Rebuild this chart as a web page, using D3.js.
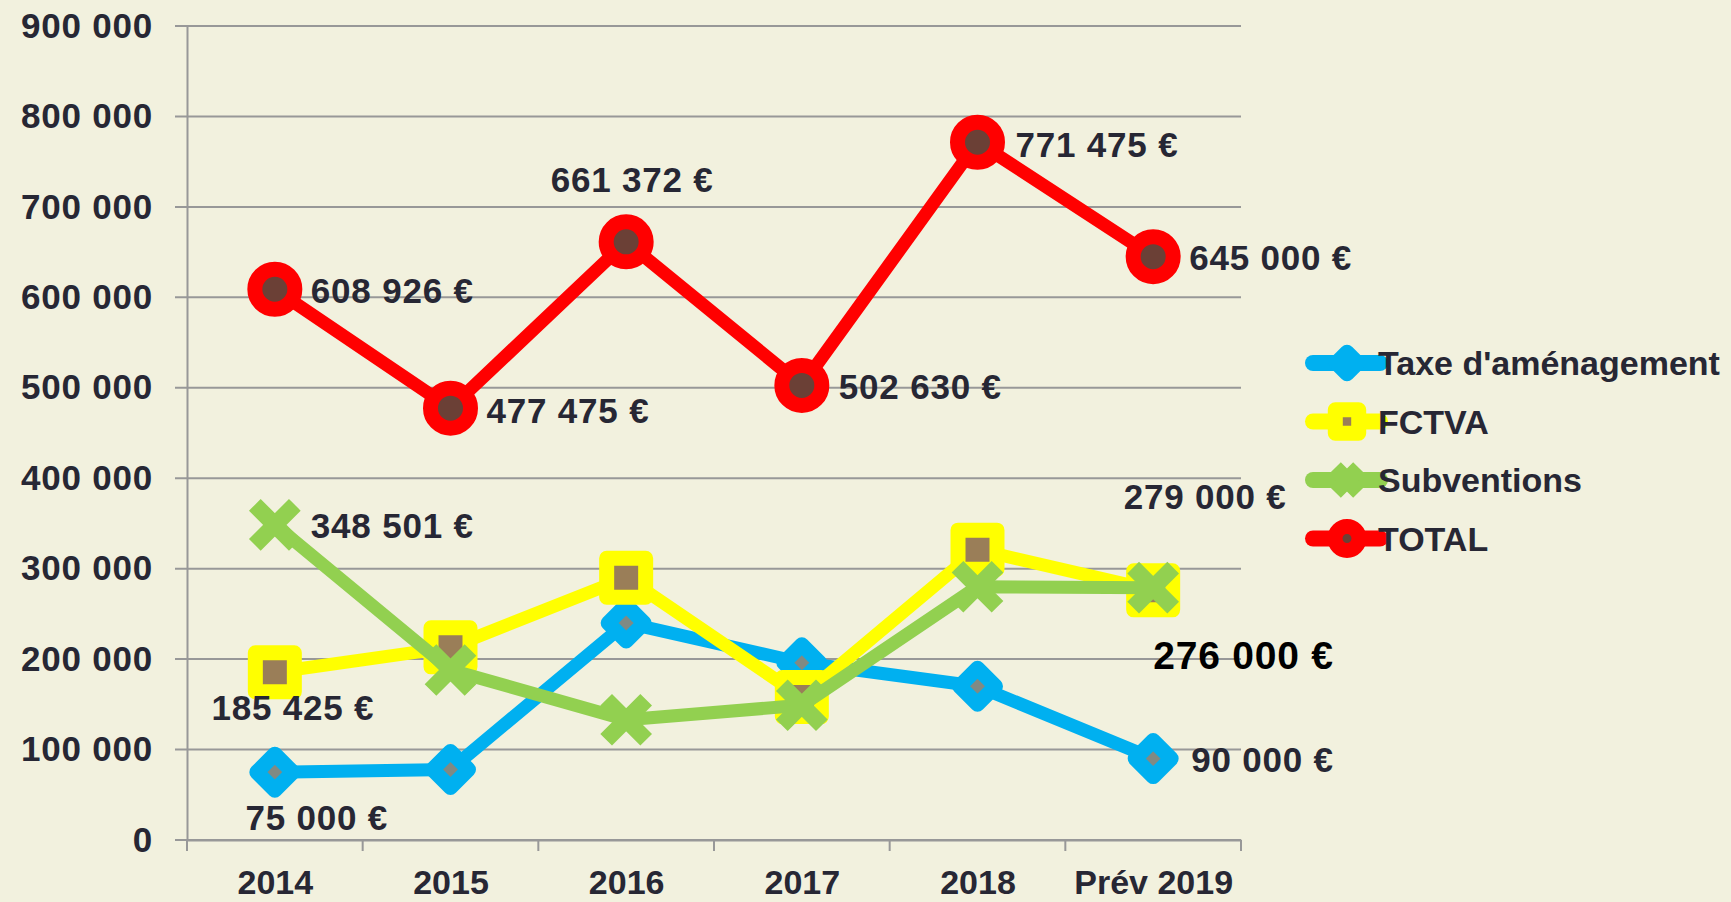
<!DOCTYPE html>
<html>
<head>
<meta charset="utf-8">
<script src="https://cdn.jsdelivr.net/npm/d3@7"></script>
<style>
  html, body { margin: 0; padding: 0; background: #F2F1DE; overflow: hidden; }
  svg { display: block; }
  text { font-family: "Liberation Sans", Arial, sans-serif; font-weight: bold; fill: #272734; }
</style>
</head>
<body>
<svg id="chart" width="1731" height="902"></svg>
<script>
// ---- Data ----
const categories = ["2014", "2015", "2016", "2017", "2018", "Prév 2019"];
const taxeAmenagement = [75000, 78000, 240000, 196000, 170000, 90000];
const fctva = [185425, 213000, 290000, 158000, 321000, 276000];
const subventions = [348501, 188000, 133000, 149000, 280000, 279000];
const total = [608926, 477475, 661372, 502630, 771475, 645000];
const yTicks = [0, 100000, 200000, 300000, 400000, 500000, 600000, 700000, 800000, 900000];
const seriesNames = ["Taxe d'aménagement", "FCTVA", "Subventions", "TOTAL"];

// ---- Layout / style ----
const W = 1731, H = 902;
const plot = { left: 187, right: 1241, top: 26, bottom: 840 };
const svg = d3.select("#chart");
svg.append("rect").attr("width", W).attr("height", H).attr("fill", "#F2F1DE");

const x = d3.scalePoint().domain(categories).range([plot.left, plot.right]).padding(0.5);
const y = d3.scaleLinear().domain([0, 900000]).range([plot.bottom, plot.top]);
const step = x.step();

const fmtNum = v => d3.format(",")(v).replace(/,/g, " ");
const gridColor = "#989898";

// gridlines
svg.append("g").selectAll("line").data(yTicks).join("line")
  .attr("x1", plot.left - 12).attr("x2", plot.right)
  .attr("y1", d => y(d)).attr("y2", d => y(d))
  .attr("stroke", gridColor).attr("stroke-width", 2);

// y axis
const yAxis = d3.axisLeft(y).tickValues(yTicks).tickSize(0).tickPadding(34)
  .tickFormat(d => fmtNum(d));
const gy = svg.append("g").attr("transform", `translate(${plot.left},0)`).call(yAxis);
gy.select(".domain").attr("stroke", gridColor).attr("stroke-width", 2);
gy.selectAll("text").attr("font-size", 35).attr("letter-spacing", 0.8)
  .attr("fill", "#272734").attr("font-family", "Liberation Sans, Arial, sans-serif")
  .attr("font-weight", "bold");

// x axis
const xAxis = d3.axisBottom(x).tickSize(0).tickPadding(30);
const gx = svg.append("g").attr("transform", `translate(0,${plot.bottom})`).call(xAxis);
gx.select(".domain").attr("stroke", gridColor).attr("stroke-width", 2);
gx.selectAll("text").attr("font-size", 34).attr("fill", "#272734")
  .attr("font-family", "Liberation Sans, Arial, sans-serif").attr("font-weight", "bold")
  .attr("dy", "0.71em");
// category boundary ticks
const bounds = d3.range(categories.length + 1).map(i => plot.left + i * step);
svg.append("g").selectAll("line").data(bounds).join("line")
  .attr("x1", d => d).attr("x2", d => d)
  .attr("y1", plot.bottom).attr("y2", plot.bottom + 11)
  .attr("stroke", gridColor).attr("stroke-width", 2);

// ---- Series ----
const series = [
  { name: seriesNames[0], values: taxeAmenagement, color: "#00B0F0", inner: "#808A84", marker: "diamond" },
  { name: seriesNames[1], values: fctva, color: "#FFFF00", inner: "#9A7E58", marker: "square" },
  { name: seriesNames[2], values: subventions, color: "#92D050", inner: "#92D050", marker: "x" },
  { name: seriesNames[3], values: total, color: "#FF0000", inner: "#6B4036", marker: "circle" }
];

function drawMarker(g, type, color, inner, s) {
  if (type === "diamond") {
    const h = 18 * s.size;
    g.append("path").attr("d", `M0,${-h}L${h},0L0,${h}L${-h},0Z`)
      .attr("fill", inner).attr("stroke", color).attr("stroke-width", s.stroke)
      .attr("stroke-linejoin", "round");
  } else if (type === "square") {
    const a = 19.5 * s.size;
    g.append("rect").attr("x", -a).attr("y", -a).attr("width", 2 * a).attr("height", 2 * a)
      .attr("fill", inner).attr("stroke", color).attr("stroke-width", s.stroke)
      .attr("stroke-linejoin", "round");
  } else if (type === "circle") {
    g.append("circle").attr("r", 20 * s.size)
      .attr("fill", inner).attr("stroke", color).attr("stroke-width", s.stroke);
  } else if (type === "x") {
    const a = 20 * s.size;
    g.append("path").attr("d", `M${-a},${-a}L${a},${a}M${-a},${a}L${a},${-a}`)
      .attr("stroke", color).attr("stroke-width", s.stroke * 1.1).attr("stroke-linecap", "butt");
  }
}

const line = d3.line().x((d, i) => x(categories[i])).y(d => y(d));

series.forEach(s => {
  const g = svg.append("g");
  g.append("path").datum(s.values).attr("d", line)
    .attr("fill", "none").attr("stroke", s.color).attr("stroke-width", 13)
    .attr("stroke-linejoin", "round").attr("stroke-linecap", "round");
  s.values.forEach((v, i) => {
    const mg = g.append("g").attr("transform", `translate(${x(categories[i])},${y(v)})`);
    drawMarker(mg, s.marker, s.color, s.inner, { size: 1, stroke: 15 });
  });
});

// ---- Data labels ----
// placement: [seriesIndex, pointIndex, dx, dy, anchor, fontSize, color]
const labelPlacement = [
  [3, 0, 36, 1, "start", 35, "#272734"],
  [3, 1, 36, 2, "start", 35, "#272734"],
  [3, 2, 6, -62, "middle", 35, "#272734"],
  [3, 3, 37, 1, "start", 35, "#272734"],
  [3, 4, 38, 2, "start", 35, "#272734"],
  [3, 5, 36, 1, "start", 35, "#272734"],
  [2, 0, 36, 1, "start", 35, "#272734"],
  [2, 5, 52, -91, "middle", 35, "#272734"],
  [1, 0, 18, 35, "middle", 35, "#272734"],
  [1, 5, 0, 65, "start", 39, "#000000"],
  [0, 0, 42, 45, "middle", 35, "#272734"],
  [0, 5, 38, 1, "start", 35, "#272734"]
];
svg.append("g").selectAll("text").data(labelPlacement).join("text")
  .attr("x", d => x(categories[d[1]]) + d[2])
  .attr("y", d => y(series[d[0]].values[d[1]]) + d[3])
  .attr("text-anchor", d => d[4])
  .attr("dominant-baseline", "central")
  .attr("font-size", d => d[5])
  .attr("letter-spacing", 0.8)
  .style("fill", d => d[6])
  .text(d => fmtNum(series[d[0]].values[d[1]]) + " €");

// ---- Legend ----
const legend = svg.append("g").attr("transform", "translate(1313,363)");
series.forEach((s, i) => {
  const row = legend.append("g").attr("transform", `translate(0,${i * 58.5})`);
  row.append("line").attr("x1", 0).attr("x2", 67).attr("y1", 0).attr("y2", 0)
    .attr("stroke", s.color).attr("stroke-width", 16).attr("stroke-linecap", "round");
  const mg = row.append("g").attr("transform", "translate(34,0)");
  drawMarker(mg, s.marker, s.color, s.inner, { size: 0.6, stroke: 15 });
  row.append("text").attr("x", 65).attr("y", 0).attr("dominant-baseline", "central")
    .attr("font-size", 34).text(s.name);
});
</script>
</body>
</html>
